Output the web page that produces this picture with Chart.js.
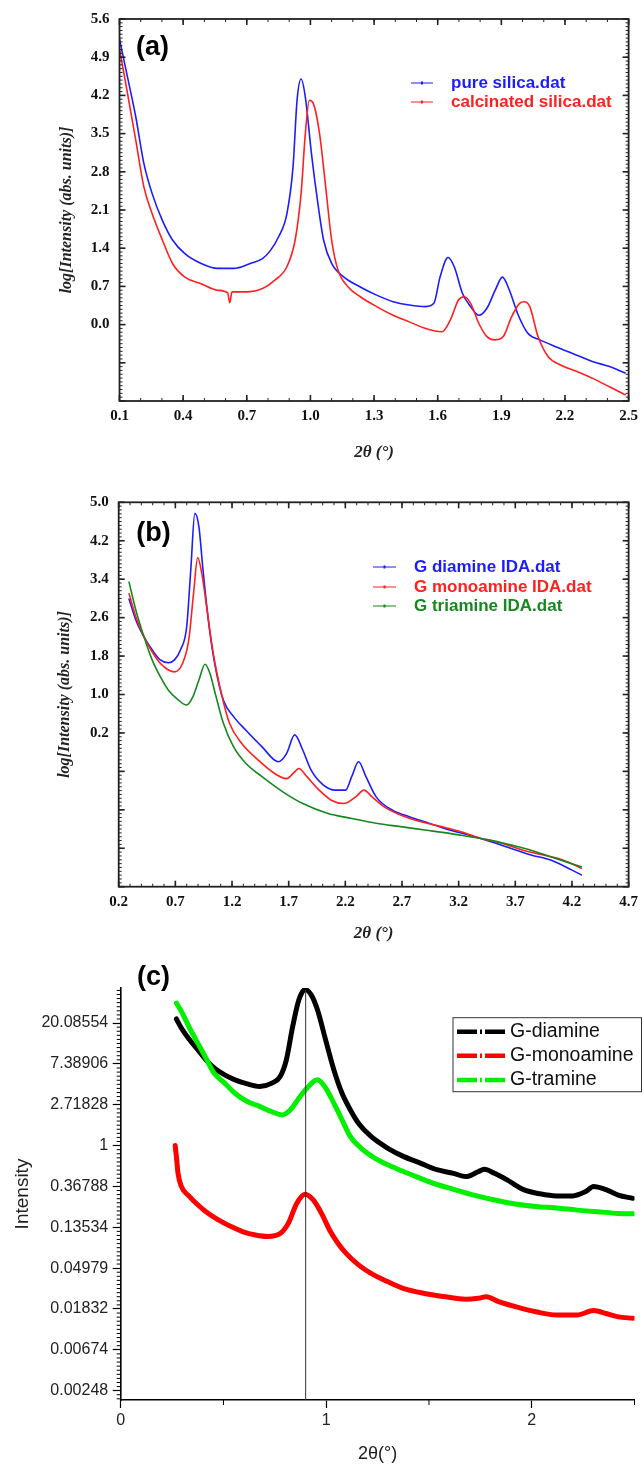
<!DOCTYPE html>
<html>
<head>
<meta charset="utf-8">
<script src="https://cdn.jsdelivr.net/npm/chart.js@4.4.1/dist/chart.umd.min.js"></script>
<style>
  body { margin: 0; width: 644px; height: 1465px; background: #fff; overflow: hidden; position: relative; }
  canvas { position: absolute; left: 0; }
</style>
</head>
<body>
<canvas id="chartA" width="644" height="470" style="top:0px"></canvas>
<canvas id="chartB" width="644" height="475" style="top:470px"></canvas>
<canvas id="chartC" width="644" height="520" style="top:945px"></canvas>
<script>
// ---- panel (a) ----
const aXTicks = [0.1, 0.4, 0.7, 1.0, 1.3, 1.6, 1.9, 2.2, 2.5];
const aXLabels = ['0.1', '0.4', '0.7', '1.0', '1.3', '1.6', '1.9', '2.2', '2.5'];
const aYTicks = [-1.4, -0.7, 0, 0.7, 1.4, 2.1, 2.8, 3.5, 4.2, 4.9, 5.6];
const aYLabels = ['', '', '0.0', '0.7', '1.4', '2.1', '2.8', '3.5', '4.2', '4.9', '5.6'];

const pureX = [0.1, 0.138, 0.177, 0.215, 0.254, 0.302, 0.35, 0.408, 0.485, 0.562, 0.639, 0.716, 0.774, 0.812, 0.85, 0.889, 0.918, 0.937, 0.956, 0.976, 1.005, 1.033, 1.062, 1.1, 1.158, 1.235, 1.312, 1.39, 1.466, 1.543, 1.582, 1.611, 1.649, 1.678, 1.717, 1.755, 1.794, 1.832, 1.871, 1.905, 1.938, 1.977, 2.025, 2.082, 2.159, 2.236, 2.332, 2.41, 2.486];
const pureY = [5.23, 4.53, 3.80, 2.95, 2.40, 1.91, 1.55, 1.30, 1.12, 1.03, 1.03, 1.12, 1.21, 1.36, 1.61, 2.03, 2.89, 4.11, 4.50, 4.17, 3.13, 2.28, 1.55, 1.12, 0.87, 0.69, 0.54, 0.42, 0.36, 0.33, 0.39, 0.87, 1.23, 1.06, 0.57, 0.33, 0.17, 0.30, 0.63, 0.87, 0.63, 0.20, -0.16, -0.28, -0.41, -0.53, -0.68, -0.77, -0.89];
const calcX = [0.1, 0.138, 0.177, 0.215, 0.254, 0.302, 0.35, 0.408, 0.485, 0.562, 0.61, 0.62, 0.63, 0.697, 0.774, 0.831, 0.889, 0.928, 0.956, 0.976, 0.995, 1.014, 1.043, 1.072, 1.10, 1.13, 1.178, 1.235, 1.312, 1.39, 1.466, 1.543, 1.62, 1.659, 1.698, 1.726, 1.755, 1.794, 1.832, 1.871, 1.909, 1.948, 1.986, 2.009, 2.034, 2.073, 2.121, 2.179, 2.256, 2.333, 2.41, 2.486];
const calcY = [5.05, 4.23, 3.37, 2.52, 2.03, 1.55, 1.12, 0.87, 0.75, 0.63, 0.58, 0.40, 0.60, 0.60, 0.66, 0.81, 1.06, 1.55, 2.40, 3.50, 4.11, 4.05, 3.50, 2.52, 1.55, 1.00, 0.69, 0.51, 0.33, 0.17, 0.05, -0.07, -0.13, 0.08, 0.45, 0.51, 0.39, 0.02, -0.22, -0.28, -0.22, 0.14, 0.39, 0.42, 0.33, -0.22, -0.59, -0.74, -0.86, -0.99, -1.14, -1.29];

// ---- panel (b) ----
const bXTicks = [0.2, 0.7, 1.2, 1.7, 2.2, 2.7, 3.2, 3.7, 4.2, 4.7];
const bXLabels = ['0.2', '0.7', '1.2', '1.7', '2.2', '2.7', '3.2', '3.7', '4.2', '4.7'];
const bYTicks = [-3.0, -2.2, -1.4, -0.6, 0.2, 1.0, 1.8, 2.6, 3.4, 4.2, 5.0];
const bYLabels = ['', '', '', '', '0.2', '1.0', '1.8', '2.6', '3.4', '4.2', '5.0'];

const diX = [0.29, 0.351, 0.423, 0.495, 0.567, 0.639, 0.692, 0.746, 0.80, 0.836, 0.872, 0.908, 0.944, 0.998, 1.052, 1.124, 1.214, 1.321, 1.465, 1.609, 1.681, 1.753, 1.825, 1.897, 2.004, 2.112, 2.202, 2.256, 2.317, 2.382, 2.472, 2.616, 2.759, 2.939, 3.119, 3.298, 3.478, 3.658, 3.838, 4.017, 4.197, 4.287];
const diY = [3.00, 2.55, 2.20, 1.93, 1.72, 1.66, 1.72, 1.93, 2.41, 3.59, 4.77, 4.49, 3.59, 2.41, 1.58, 0.88, 0.54, 0.26, -0.09, -0.40, -0.23, 0.16, -0.16, -0.57, -0.88, -0.99, -0.99, -0.71, -0.40, -0.71, -1.13, -1.41, -1.54, -1.68, -1.82, -1.93, -2.06, -2.20, -2.34, -2.45, -2.65, -2.76];
const monoX = [0.29, 0.351, 0.423, 0.495, 0.567, 0.639, 0.692, 0.764, 0.818, 0.861, 0.897, 0.933, 0.98, 1.034, 1.106, 1.178, 1.286, 1.429, 1.573, 1.681, 1.753, 1.789, 1.861, 1.969, 2.076, 2.184, 2.292, 2.364, 2.436, 2.544, 2.687, 2.867, 3.047, 3.227, 3.407, 3.586, 3.766, 3.946, 4.125, 4.287];
const monoY = [3.11, 2.62, 2.20, 1.89, 1.65, 1.51, 1.47, 1.65, 2.13, 3.11, 3.85, 3.52, 2.76, 1.86, 1.02, 0.40, -0.02, -0.36, -0.64, -0.75, -0.61, -0.54, -0.71, -0.99, -1.20, -1.27, -1.13, -0.99, -1.13, -1.34, -1.51, -1.65, -1.75, -1.86, -2.00, -2.10, -2.24, -2.34, -2.45, -2.62];
const triX = [0.29, 0.351, 0.423, 0.495, 0.567, 0.639, 0.71, 0.80, 0.854, 0.908, 0.962, 1.005, 1.052, 1.124, 1.214, 1.321, 1.465, 1.645, 1.825, 2.04, 2.256, 2.472, 2.687, 2.903, 3.119, 3.298, 3.478, 3.658, 3.838, 4.017, 4.197, 4.287];
const triY = [3.35, 2.76, 2.20, 1.72, 1.37, 1.09, 0.92, 0.78, 0.95, 1.30, 1.63, 1.44, 1.02, 0.40, -0.09, -0.43, -0.71, -1.02, -1.27, -1.47, -1.58, -1.68, -1.75, -1.82, -1.89, -1.96, -2.03, -2.13, -2.24, -2.38, -2.52, -2.59];

// ---- panel (c) ----
const cXTicks = [0, 1, 2];
const cXLabels = ['0', '1', '2'];
const cYTicks = [0.00247875, 0.00673795, 0.01831564, 0.04978707, 0.13533528, 0.36787944, 1, 2.71828183, 7.3890561, 20.0855369];
const cYLabels = ['0.00248', '0.00674', '0.01832', '0.04979', '0.13534', '0.36788', '1', '2.71828', '7.38906', '20.08554'];

const gdiX = [0.271, 0.295, 0.335, 0.375, 0.415, 0.455, 0.506, 0.556, 0.616, 0.676, 0.736, 0.776, 0.806, 0.837, 0.867, 0.897, 0.927, 0.957, 0.997, 1.037, 1.077, 1.117, 1.157, 1.218, 1.298, 1.378, 1.458, 1.538, 1.619, 1.679, 1.739, 1.769, 1.819, 1.88, 1.96, 2.04, 2.12, 2.20, 2.261, 2.301, 2.361, 2.421, 2.492];
const gdiY = [22.20, 17.81, 13.33, 10.49, 8.17, 6.69, 5.64, 5.00, 4.53, 4.26, 4.62, 5.42, 8.17, 18.54, 35.52, 45.60, 40.04, 27.94, 13.33, 6.42, 3.60, 2.41, 1.73, 1.25, 0.942, 0.763, 0.651, 0.554, 0.507, 0.468, 0.527, 0.560, 0.507, 0.432, 0.340, 0.307, 0.292, 0.292, 0.323, 0.368, 0.340, 0.298, 0.275];
const gmonoX = [0.265, 0.271, 0.279, 0.295, 0.335, 0.375, 0.415, 0.475, 0.536, 0.596, 0.656, 0.716, 0.776, 0.816, 0.857, 0.897, 0.937, 0.977, 1.017, 1.057, 1.097, 1.157, 1.218, 1.298, 1.378, 1.478, 1.579, 1.679, 1.739, 1.779, 1.839, 1.92, 2.02, 2.12, 2.221, 2.301, 2.361, 2.421, 2.492];
const gmonoY = [1.00, 0.763, 0.507, 0.368, 0.287, 0.235, 0.198, 0.162, 0.138, 0.121, 0.112, 0.108, 0.116, 0.150, 0.244, 0.304, 0.264, 0.190, 0.126, 0.0916, 0.0714, 0.0539, 0.0437, 0.0358, 0.0302, 0.0268, 0.0247, 0.0233, 0.0238, 0.0247, 0.0219, 0.0194, 0.0171, 0.0158, 0.0158, 0.0176, 0.0164, 0.0151, 0.0146];
const gtriX = [0.271, 0.295, 0.335, 0.375, 0.415, 0.455, 0.506, 0.556, 0.616, 0.676, 0.736, 0.786, 0.826, 0.867, 0.907, 0.957, 0.997, 1.037, 1.077, 1.117, 1.178, 1.238, 1.318, 1.418, 1.519, 1.619, 1.719, 1.819, 1.92, 2.02, 2.12, 2.221, 2.321, 2.421, 2.492];
const gtriY = [32.79, 26.84, 17.81, 12.30, 8.50, 5.87, 4.62, 3.60, 2.94, 2.61, 2.29, 2.12, 2.41, 3.19, 4.10, 5.00, 4.10, 2.83, 1.88, 1.25, 0.905, 0.733, 0.600, 0.487, 0.399, 0.343, 0.298, 0.264, 0.239, 0.225, 0.217, 0.206, 0.198, 0.190, 0.188];
const peakLineX = [0.9, 0.9];
const peakLineY = [0.00197, 45.6];

const pts = (xs, ys) => xs.map((x, i) => ({ x: x, y: ys[i] }));

const SERIF = '"Liberation Serif", "Times New Roman", serif';
const SANS = '"Liberation Sans", Arial, sans-serif';

// box with inward ticks on all four sides (panels a, b)
const frameTicks = {
  id: 'frameTicks',
  afterDraw(chart, args, o) {
    if (!o.enabled) return;
    const { ctx, chartArea: a, scales: { x, y } } = chart;
    ctx.save();
    ctx.strokeStyle = '#222';
    const seg = (x1, y1, x2, y2) => { ctx.beginPath(); ctx.moveTo(x1, y1); ctx.lineTo(x2, y2); ctx.stroke(); };
    ctx.lineWidth = 1;
    for (let v = x.min; v <= x.max + 1e-9; v += o.xStep) {
      const p = x.getPixelForValue(v);
      seg(p, a.bottom, p, a.bottom - 3); seg(p, a.top, p, a.top + 3);
    }
    for (let v = y.min; v <= y.max + 1e-9; v += o.yStep) {
      const p = y.getPixelForValue(v);
      seg(a.left, p, a.left + 3, p); seg(a.right, p, a.right - 3, p);
    }
    ctx.lineWidth = 1.6;
    x.ticks.forEach(t => {
      const p = x.getPixelForValue(t.value);
      seg(p, a.bottom, p, a.bottom - 6); seg(p, a.top, p, a.top + 6);
    });
    y.ticks.forEach(t => {
      const p = y.getPixelForValue(t.value);
      seg(a.left, p, a.left + 6, p); seg(a.right, p, a.right - 6, p);
    });
    ctx.lineWidth = 1.8;
    ctx.strokeRect(a.left, a.top, a.right - a.left, a.bottom - a.top);
    ctx.restore();
  }
};

// outward minor ticks for the log panel (c)
const minorTicks = {
  id: 'minorTicks',
  afterDraw(chart, args, o) {
    if (!o.enabled) return;
    const { ctx, chartArea: a, scales: { x, y } } = chart;
    ctx.save();
    ctx.strokeStyle = '#000';
    ctx.lineWidth = 1;
    const seg = (x1, y1, x2, y2) => { ctx.beginPath(); ctx.moveTo(x1, y1); ctx.lineTo(x2, y2); ctx.stroke(); };
    for (let k = -62; k <= 38; k++) {
      if (k % 10 === 0) continue;
      const p = y.getPixelForValue(Math.exp(k / 10));
      seg(a.left - 4, p, a.left, p);
    }
    o.xMinor.forEach(v => {
      const p = x.getPixelForValue(v);
      seg(p, a.bottom, p, a.bottom + 5);
    });
    ctx.restore();
  }
};

// legend + panel tag
const legendTag = {
  id: 'legendTag',
  afterDraw(chart, args, o) {
    if (!o.items) return;
    const ctx = chart.ctx;
    ctx.save();
    if (o.box) {
      ctx.strokeStyle = '#333';
      ctx.lineWidth = 1;
      ctx.strokeRect(o.box[0], o.box[1], o.box[2], o.box[3]);
    }
    o.items.forEach(it => {
      const ds = chart.data.datasets[it.ds];
      ctx.strokeStyle = ds.borderColor;
      ctx.lineWidth = o.lineWidth;
      ctx.setLineDash(o.dash || []);
      ctx.beginPath(); ctx.moveTo(o.x0, it.y); ctx.lineTo(o.x1, it.y); ctx.stroke();
      ctx.setLineDash([]);
      if (o.marker) {
        ctx.fillStyle = ds.borderColor;
        ctx.fillRect((o.x0 + o.x1) / 2 - 1, it.y - 1.5, 2, 3);
      }
      ctx.fillStyle = o.textColor || ds.borderColor;
      ctx.font = o.font;
      ctx.textAlign = 'left';
      ctx.textBaseline = 'middle';
      ctx.fillText(ds.label, o.tx, it.y);
    });
    ctx.fillStyle = '#000';
    ctx.font = 'bold 27px ' + SANS;
    ctx.textAlign = 'center';
    ctx.textBaseline = 'middle';
    ctx.fillText(o.tag.text, o.tag.x, o.tag.y);
    ctx.restore();
  }
};

Chart.register(frameTicks, minorTicks, legendTag);

function serifAxes(xT, xL, yT, yL, xMin, xMax, yMin, yMax, xH, yW, xTitlePad, yTitlePad) {
  return {
    x: {
      type: 'linear', min: xMin, max: xMax,
      afterBuildTicks: s => { s.ticks = xT.map(v => ({ value: v })); },
      afterFit: s => { s.height = xH; },
      grid: { display: false, drawTicks: false },
      border: { display: false },
      ticks: { autoSkip: false, maxRotation: 0, padding: 6, color: '#111',
        font: { family: SERIF, size: 15, weight: 'bold' },
        callback: (v, i) => xL[i] },
      title: { display: true, text: '2θ (°)', color: '#222',
        font: { family: SERIF, size: 17, style: 'italic', weight: 'bold' },
        padding: { top: 0, bottom: xTitlePad } }
    },
    y: {
      type: 'linear', min: yMin, max: yMax,
      afterBuildTicks: s => { s.ticks = yT.map(v => ({ value: v })); },
      afterFit: s => { s.width = yW; },
      grid: { display: false, drawTicks: false },
      border: { display: false },
      ticks: { autoSkip: false, padding: 10, color: '#111',
        font: { family: SERIF, size: 15, weight: 'bold' },
        callback: (v, i) => yL[i] },
      title: { display: true, text: 'log[Intensity (abs. units)]', color: '#222',
        font: { family: SERIF, size: 16, style: 'italic', weight: 'bold' },
        padding: { top: yTitlePad, bottom: 0 } }
    }
  };
}

const thin = (label, color, xs, ys, order) => ({
  label: label, data: pts(xs, ys), borderColor: color, backgroundColor: color,
  borderWidth: 1.6, pointRadius: 0, cubicInterpolationMode: 'monotone', order: order
});

// ---- chart (a) ----
new Chart(document.getElementById('chartA'), {
  type: 'line',
  data: {
    datasets: [
      thin('pure silica.dat', '#1c1cff', pureX, pureY, 1),
      thin('calcinated silica.dat', '#ff2020', calcX, calcY, 0)
    ]
  },
  options: {
    responsive: false, animation: false, devicePixelRatio: 1,
    layout: { padding: { left: 0, right: 10.7, top: 17.3, bottom: 0 } },
    scales: serifAxes(aXTicks, aXLabels, aYTicks, aYLabels, 0.1, 2.5, -1.4, 5.6, 69, 119.5, 7, 57),
    plugins: {
      legend: { display: false }, tooltip: { enabled: false },
      frameTicks: { enabled: true, xStep: 0.1, yStep: 0.07 },
      legendTag: {
        items: [{ ds: 0, y: 83 }, { ds: 1, y: 102 }],
        x0: 411, x1: 433, tx: 451, lineWidth: 1, marker: true,
        font: 'bold 17px ' + SANS,
        tag: { text: '(a)', x: 152.5, y: 47.5 }
      }
    }
  }
});

// ---- chart (b) ----
new Chart(document.getElementById('chartB'), {
  type: 'line',
  data: {
    datasets: [
      thin('G diamine IDA.dat', '#1c1cff', diX, diY, 2),
      thin('G monoamine IDA.dat', '#ff2020', monoX, monoY, 1),
      thin('G triamine IDA.dat', '#17871f', triX, triY, 0)
    ]
  },
  options: {
    responsive: false, animation: false, devicePixelRatio: 1,
    layout: { padding: { left: 0, right: 9.5, top: 32.3, bottom: 0 } },
    scales: serifAxes(bXTicks, bXLabels, bYTicks, bYLabels, 0.2, 4.7, -3.0, 5.0, 58.3, 118.7, 1, 55),
    plugins: {
      legend: { display: false }, tooltip: { enabled: false },
      frameTicks: { enabled: true, xStep: 0.1, yStep: 0.08 },
      legendTag: {
        items: [{ ds: 0, y: 97 }, { ds: 1, y: 117 }, { ds: 2, y: 136 }],
        x0: 373, x1: 396, tx: 414, lineWidth: 1, marker: true,
        font: 'bold 17px ' + SANS,
        tag: { text: '(b)', x: 153.5, y: 63.3 }
      }
    }
  }
});

// ---- chart (c) ----
const thick = (label, color, xs, ys, order) => ({
  label: label, data: pts(xs, ys), borderColor: color, backgroundColor: color,
  borderWidth: 5, pointRadius: 0, cubicInterpolationMode: 'monotone',
  borderCapStyle: 'round', borderJoinStyle: 'round', order: order
});

new Chart(document.getElementById('chartC'), {
  type: 'line',
  data: {
    datasets: [
      thick('G-diamine', '#000000', gdiX, gdiY, 1),
      thick('G-monoamine', '#ff0000', gmonoX, gmonoY, 2),
      thick('G-tramine', '#00f000', gtriX, gtriY, 0),
      { label: '', data: pts(peakLineX, peakLineY), borderColor: '#333', borderWidth: 1,
        pointRadius: 0, order: -1 }
    ]
  },
  options: {
    responsive: false, animation: false, devicePixelRatio: 1,
    layout: { padding: { left: 0, right: 9.5, top: 43, bottom: 0 } },
    scales: {
      x: {
        type: 'linear', min: 0, max: 2.5,
        afterBuildTicks: s => { s.ticks = cXTicks.map(v => ({ value: v })); },
        afterFit: s => { s.height = 65; },
        grid: { display: true, drawOnChartArea: false, drawTicks: true, tickLength: 8, color: '#000', tickWidth: 1.2 },
        border: { display: true, color: '#000', width: 1.6 },
        ticks: { autoSkip: false, maxRotation: 0, padding: 3, color: '#222',
          font: { family: SANS, size: 16 }, callback: (v, i) => cXLabels[i] },
        title: { display: true, text: '2θ(°)', color: '#222',
          font: { family: SANS, size: 18 }, padding: { top: 0, bottom: 0 } }
      },
      y: {
        type: 'logarithmic', min: 0.001972, max: 47.4,
        afterBuildTicks: s => { s.ticks = cYTicks.map(v => ({ value: v })); },
        afterFit: s => { s.width = 120.7; },
        grid: { display: true, drawOnChartArea: false, drawTicks: true, tickLength: 8, color: '#000', tickWidth: 1.2 },
        border: { display: true, color: '#000', width: 1.6 },
        ticks: { autoSkip: false, padding: 4.5, color: '#222',
          font: { family: SANS, size: 16 }, callback: (v, i) => cYLabels[i] },
        title: { display: true, text: 'Intensity', color: '#222',
          font: { family: SANS, size: 19 }, padding: { top: 11, bottom: 0 } }
      }
    },
    plugins: {
      legend: { display: false }, tooltip: { enabled: false },
      minorTicks: { enabled: true, xMinor: [0.5, 1.5, 2.5] },
      legendTag: {
        box: [453, 72.7, 188.5, 74],
        items: [{ ds: 0, y: 86.7 }, { ds: 1, y: 110.7 }, { ds: 2, y: 135 }],
        x0: 457, x1: 505, tx: 510, lineWidth: 4.5, dash: [20, 3, 2, 3],
        textColor: '#111', font: '19.5px ' + SANS,
        tag: { text: '(c)', x: 153.5, y: 32.5 }
      }
    }
  }
});
</script>
</body>
</html>
